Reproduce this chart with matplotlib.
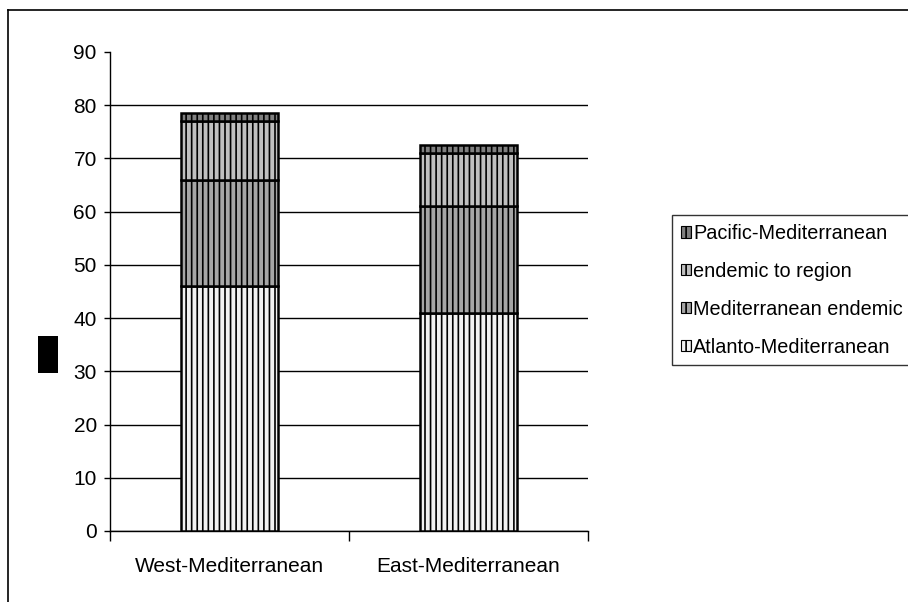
import numpy as np
import matplotlib
matplotlib.use("Agg")
from matplotlib import pyplot as plt
from matplotlib.patches import Rectangle
from matplotlib.lines import Line2D

plt.rcParams['font.family'] = ['Liberation Sans', 'DejaVu Sans']
plt.rcParams['hatch.linewidth'] = 1.2

# species counts per region, stacked bottom to top
categories = ['West-Mediterranean', 'East-Mediterranean']
atlanto = [46, 41]
med_endemic = [20, 20]
endemic_region = [11, 10]
pacific = [1.5, 1.5]

series = [
    ('Atlanto-Mediterranean', atlanto, '#f2f2f2'),
    ('Mediterranean endemic', med_endemic, '#a6a6a6'),
    ('endemic to region', endemic_region, '#c0c0c0'),
    ('Pacific-Mediterranean', pacific, '#808080'),
]
yticks = np.arange(0, 91, 10)

W, H = 908, 602
fig = plt.figure(figsize=(W/100, H/100), dpi=100)
ax = fig.add_axes([110/W, 1 - 531/H, 478/W, 479/H])

x = np.arange(len(categories))
bottom = np.zeros(len(categories))
handles = []
for name, vals, col in series:
    b = ax.bar(x, vals, width=0.41, bottom=bottom, color=col, edgecolor='black',
               linewidth=1.8, hatch='|||', label=name, zorder=3)
    handles.append(b)
    bottom += np.array(vals)

ax.set_xlim(-0.5, 1.5)
ax.set_ylim(0, 90)
ax.set_yticks(yticks)
ax.tick_params(axis='y', length=4.5, width=1, pad=5, labelsize=15)
ax.yaxis.grid(True, color='black', linewidth=1)
ax.get_ygridlines()[-1].set_visible(False)
ax.set_axisbelow(True)

# category boundaries get ticks, category centres get the labels
ax.set_xticks([-0.5, 0.5, 1.5])
ax.set_xticklabels([])
ax.tick_params(axis='x', which='major', length=7, width=1, direction='out')
ax.set_xticks(x, minor=True)
ax.set_xticklabels(categories, minor=True)
ax.tick_params(axis='x', which='minor', length=0, pad=19, labelsize=15)

for s in ['top', 'right']:
    ax.spines[s].set_visible(False)
for s in ['left', 'bottom']:
    ax.spines[s].set_linewidth(1)

leg = fig.legend(handles[::-1], [s[0] for s in series][::-1],
                 loc='upper left', bbox_to_anchor=(672/W, 1 - 215/H),
                 fontsize=14.3, frameon=True, fancybox=False, borderpad=0.45,
                 handlelength=0.5, handleheight=0.5, handletextpad=0.12,
                 labelspacing=0.95, borderaxespad=0)
leg.get_frame().set_edgecolor('black')
leg.get_frame().set_linewidth(1)
for p in leg.get_patches():
    p.set_linewidth(0.8)

# axis title box
fig.patches.append(Rectangle((38/W, 1 - 373/H), 20/W, 37/H, transform=fig.transFigure,
                             facecolor='black', edgecolor='none'))

# chart area frame
fig.lines.append(Line2D([8/W, 8/W], [0, 1 - 10/H], transform=fig.transFigure,
                        color='black', linewidth=1.2))
fig.lines.append(Line2D([8/W, 1], [1 - 10/H, 1 - 10/H], transform=fig.transFigure,
                        color='black', linewidth=1.2))

fig.savefig('out.png', dpi=100)
